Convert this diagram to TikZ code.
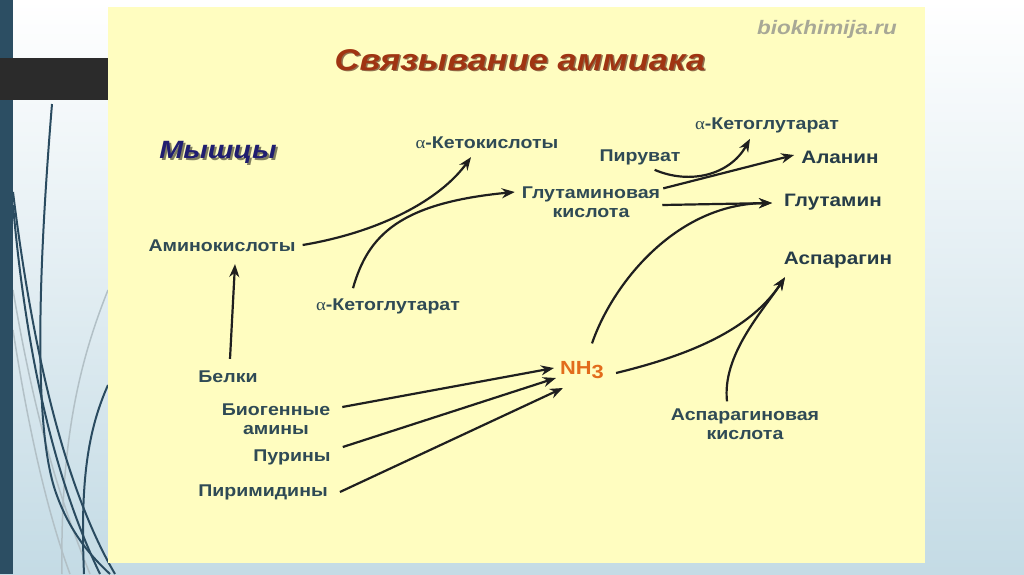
\documentclass[tikz,border=0pt]{standalone}
\usepackage{fontspec}
\setmainfont[FakeStretch=1.15]{Liberation Sans}
\newfontfamily\grk[FakeStretch=1.1]{Liberation Serif}
\usetikzlibrary{arrows.meta}
\definecolor{bgbot}{RGB}{196,219,229}
\definecolor{panel}{RGB}{255,253,192}
\definecolor{txt}{RGB}{47,74,85}
\definecolor{prod}{RGB}{38,60,72}
\definecolor{ttl}{RGB}{160,52,18}
\definecolor{ttlsh}{RGB}{70,20,5}
\definecolor{navy}{RGB}{32,30,112}
\definecolor{nhc}{RGB}{226,108,28}
\definecolor{barc}{RGB}{44,78,99}
\definecolor{darkc}{RGB}{43,43,43}
\definecolor{deco}{RGB}{42,75,96}
\definecolor{decol}{RGB}{178,192,198}
\definecolor{wm}{RGB}{168,168,150}
\begin{document}
\begin{tikzpicture}[x=1pt,y=-1pt,
  lbl/.style={font=\bfseries\fontsize{17}{19}\selectfont, text=txt, inner sep=0pt, align=center},
  prd/.style={lbl, font=\bfseries\fontsize{18}{20}\selectfont, text=prod},
  arr/.style={line width=2.2pt, draw=black!88, -{Stealth[length=13pt,width=10pt]}},
  dec/.style={line width=2pt, draw=deco},
  decl/.style={line width=1.5pt, draw=decol}]
\useasboundingbox (0,0) rectangle (1024,574);
% background
\shade[top color=white, bottom color=bgbot] (0,0) rectangle (1024,574);
% decorative curves
\begin{scope}
\clip (13,100) rectangle (120,574);
\draw[decl] (13,290) .. controls (35,420) and (60,500) .. (90,574);
\draw[decl] (13,330) .. controls (30,440) and (50,520) .. (70,574);
\draw[decl] (108,290) .. controls (80,360) and (60,440) .. (62,574);
\draw[dec] (52,104) .. controls (40,250) and (32,420) .. (55,490) .. controls (70,535) and (95,560) .. (110,574);
\draw[dec] (13,192) .. controls (30,330) and (60,480) .. (115,574);
\draw[dec] (13,205) .. controls (25,340) and (50,470) .. (100,574);
\draw[dec] (108,385) .. controls (88,430) and (80,480) .. (84,574);
\end{scope}
\fill[barc] (0,0) rectangle (13,574);
\fill[darkc] (0,58) rectangle (108,100);
% panel
\fill[panel] (108,7) rectangle (925,563);
% title and watermark
\node[font=\bfseries\itshape\fontsize{19.5}{21}\selectfont, text=wm] (wmark) at (827,29) {biokhimija.ru};
\node[font=\bfseries\itshape\fontsize{30}{32}\selectfont, text=ttlsh, opacity=0.6] at (521.5,61.5) {Связывание аммиака};
\node[font=\bfseries\itshape\fontsize{30}{32}\selectfont, text=ttl] (title) at (520,60) {Связывание аммиака};
\node[font=\bfseries\itshape\fontsize{25}{27}\selectfont, text=black, opacity=0.5] at (220,154) {Мышцы};
\node[font=\bfseries\itshape\fontsize{25}{27}\selectfont, text=navy] (muscle) at (218,152) {Мышцы};
% labels
\node[lbl] (ketoac) at (487,143) {{\grk\mdseries α}-Кетокислоты};
\node[lbl] (akgtop) at (767,125) {{\grk\mdseries α}-Кетоглутарат};
\node[lbl] (pir) at (640,157) {Пируват};
\node[prd] (ala) at (840,157) {Аланин};
\node[lbl] (glu) at (591,202) {Глутаминовая\\кислота};
\node[prd] (gln) at (833,202) {Глутамин};
\node[prd] (asn) at (838,260) {Аспарагин};
\node[lbl] (amino) at (222,246) {Аминокислоты};
\node[lbl] (akg) at (388,306) {{\grk\mdseries α}-Кетоглутарат};
\node[font=\bfseries\fontsize{19}{21}\selectfont, text=nhc, inner sep=0pt] (nh) at (582,370) {NH\raisebox{-0.35ex}{3}};
\node[lbl] (belki) at (228,377) {Белки};
\node[lbl] (bio) at (276,419) {Биогенные\\амины};
\node[lbl] (pur) at (292,457) {Пурины};
\node[lbl] (pirim) at (263,492) {Пиримидины};
\node[lbl] (aspk) at (745,424) {Аспарагиновая\\кислота};
% connectors
\draw[arr] ([xshift=7pt,yshift=1pt]amino.east) .. controls (380,232) and (440,200) .. ([xshift=-16pt,yshift=-8pt]ketoac.south);
\draw[arr] ([xshift=-35pt,yshift=10pt]akg.north) .. controls (368,235) and (400,203) .. ([xshift=-7pt,yshift=10pt]glu.west);
\draw[arr] ([xshift=2pt,yshift=12pt]belki.north) -- ([xshift=13pt,yshift=-12pt]amino.south);
\draw[arr] ([xshift=-26pt,yshift=-5pt]pir.south east) .. controls (690,185) and (730,175) .. ([xshift=-17pt,yshift=-6pt]akgtop.south);
\draw[arr] ([xshift=3pt,yshift=-2pt]glu.north east) -- ([xshift=-7pt,yshift=2pt]ala.west);
\draw[arr] ([xshift=2pt,yshift=-3pt]glu.east) -- ([xshift=-12pt,yshift=-1pt]gln.west);
\draw[arr] ([xshift=10pt,yshift=18pt]nh.north) .. controls (612,285) and (675,204) .. ([xshift=-12pt,yshift=-1pt]gln.west);
\draw[arr] ([xshift=12pt,yshift=-3pt]nh.east) .. controls (690,355) and (750,330) .. ([xshift=-53pt,yshift=-9pt]asn.south);
\draw[arr] ([xshift=-18pt,yshift=7pt]aspk.north) .. controls (722,355) and (762,312) .. ([xshift=-53pt,yshift=-9pt]asn.south);
\draw[arr] ([xshift=12pt,yshift=12pt]bio.east) -- ([xshift=-6pt,yshift=2pt]nh.west);
\draw[arr] ([xshift=12pt,yshift=10pt]pur.east) -- ([xshift=-4pt,yshift=-8pt]nh.west);
\draw[arr] ([xshift=12pt,yshift=0pt]pirim.east) -- ([xshift=3pt,yshift=-18pt]nh.west);
\end{tikzpicture}
\end{document}
